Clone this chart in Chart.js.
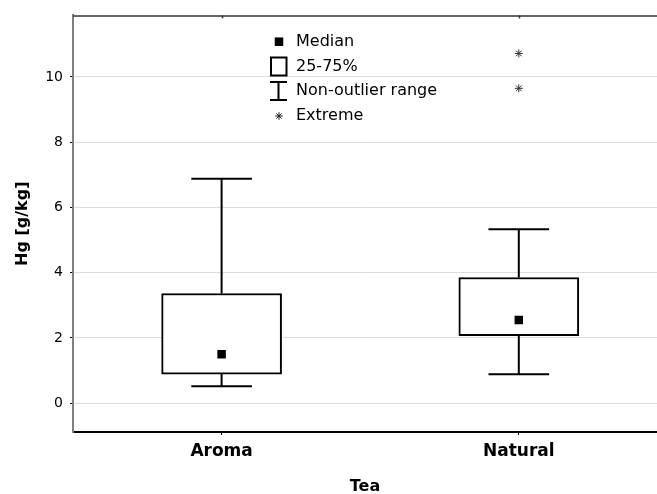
<!DOCTYPE html>
<html><head><meta charset="utf-8">
<script src="https://cdn.jsdelivr.net/npm/chart.js@4.4.1/dist/chart.umd.min.js"></script>
<style>html,body{margin:0;padding:0;background:#fff}canvas{display:block}</style>
</head><body>
<canvas id="c" width="657" height="494"></canvas>
<script>
// ---- data ----
const categories = ['Aroma', 'Natural'];
const q1 = [0.89, 2.07];
const q3 = [3.36, 3.85];
const medians = [1.50, 2.55];
const whiskerMin = [0.52, 0.885];
const whiskerMax = [6.88, 5.33];
const extremeCategory = [1, 1];
const extremeValues = [10.72, 9.65];
const yTicks = [0, 2, 4, 6, 8, 10];
const legendLabels = ['Median', '25-75%', 'Non-outlier range', 'Extreme'];
const xTitle = 'Tea';
const yTitle = 'Hg [g/kg]';

// ---- style constants ----
const CAP = 0.102;
const FONT = "'DejaVu Sans', sans-serif";

const medianData = categories.map((c, i) => ({x: i, y: medians[i]}));
const boxData = categories.map((c, i) => ({x: i, y: [q1[i], q3[i]]}));
const whiskerData = [];
const capData = [];
categories.forEach((c, i) => {
  whiskerData.push({x: i, y: q3[i]}, {x: i, y: whiskerMax[i]}, {x: i, y: null},
                   {x: i, y: q1[i]}, {x: i, y: whiskerMin[i]}, {x: i, y: null});
  capData.push({x: i - CAP, y: whiskerMax[i]}, {x: i + CAP, y: whiskerMax[i]}, {x: i, y: null},
               {x: i - CAP, y: whiskerMin[i]}, {x: i + CAP, y: whiskerMin[i]}, {x: i, y: null});
});
const extremeData = extremeValues.map((v, k) => ({x: extremeCategory[k], y: v}));

function star(ctx, x, y, r) {
  ctx.beginPath();
  for (let k = 0; k < 4; k++) {
    const a = k * Math.PI / 4;
    ctx.moveTo(x - r * Math.cos(a), y - r * Math.sin(a));
    ctx.lineTo(x + r * Math.cos(a), y + r * Math.sin(a));
  }
  ctx.stroke();
}

const framePlugin = {
  id: 'frame',
  afterDraw(chart) {
    const {ctx, chartArea: a, scales: {x}} = chart;
    ctx.save();
    ctx.strokeStyle = '#333';
    ctx.lineWidth = 1.5;
    ctx.beginPath();
    ctx.moveTo(a.left, a.top + 0.5);
    ctx.lineTo(a.right, a.top + 0.5);
    ctx.stroke();
    categories.forEach((c, i) => {
      const px = Math.round(x.getPixelForValue(i)) + 0.5;
      ctx.beginPath();
      ctx.moveTo(px, a.top);
      ctx.lineTo(px, a.top + 3);
      ctx.stroke();
    });
    // legend
    const ix = 279, tx = 296;
    const rows = [41.7, 66.5, 91.3, 116];
    ctx.fillStyle = '#000';
    ctx.strokeStyle = '#000';
    ctx.fillRect(ix - 4.25, rows[0] - 4.25, 8.5, 8.5);
    ctx.lineWidth = 2;
    ctx.strokeRect(271, 57.5, 15.5, 18);
    ctx.beginPath();
    ctx.moveTo(278.5, 82); ctx.lineTo(278.5, 100);
    ctx.moveTo(270, 82); ctx.lineTo(287, 82);
    ctx.moveTo(270, 100); ctx.lineTo(287, 100);
    ctx.stroke();
    ctx.lineWidth = 1;
    ctx.strokeStyle = '#222';
    star(ctx, ix, rows[3], 3.8);
    ctx.font = "16px " + FONT;
    ctx.textBaseline = 'middle';
    ctx.textAlign = 'left';
    ctx.fillStyle = '#000';
    legendLabels.forEach((t, k) => ctx.fillText(t, tx, rows[k]));
    ctx.restore();
  }
};

new Chart(document.getElementById('c'), {
  data: {
    datasets: [
      {type: 'scatter', data: medianData, pointStyle: 'rect', pointRadius: 6, pointBorderWidth: 0,
       backgroundColor: '#000', borderColor: '#000'},
      {type: 'bar', data: boxData, barThickness: 120, borderWidth: 2, borderSkipped: false,
       borderColor: '#000', backgroundColor: '#fff'},
      {type: 'line', data: whiskerData, borderColor: '#000', borderWidth: 2, pointRadius: 0,
       spanGaps: false, fill: false},
      {type: 'line', data: capData, borderColor: '#000', borderWidth: 2, pointRadius: 0,
       spanGaps: false, fill: false},
      {type: 'scatter', data: extremeData, pointStyle: 'star', pointRadius: 4, borderWidth: 1,
       borderColor: '#333', backgroundColor: '#333'}
    ]
  },
  options: {
    responsive: false,
    animation: false,
    devicePixelRatio: 1,
    layout: {autoPadding: false, padding: {top: 13, left: 0, right: 0, bottom: 0}},
    plugins: {legend: {display: false}, tooltip: {enabled: false}},
    scales: {
      x: {
        type: 'linear', min: -0.5, max: 1.465, offset: false,
        afterBuildTicks: s => { s.ticks = categories.map((c, i) => ({value: i})); },
        ticks: {callback: (v, i) => categories[i], font: {family: FONT, size: 17, weight: 'bold'},
                color: '#000', padding: 6, maxRotation: 0, autoSkip: false},
        grid: {offset: false, drawOnChartArea: false, drawTicks: true, tickLength: 3, tickColor: '#000', color: '#000'},
        border: {color: '#000', width: 2},
        title: {display: true, text: xTitle, color: '#000', padding: 0,
                font: {family: FONT, size: 16, weight: 'bold', lineHeight: 0.875}},
        afterFit: s => { s.height = 62; }
      },
      y: {
        min: -0.886, max: 11.886,
        afterBuildTicks: s => { s.ticks = yTicks.map(v => ({value: v})); },
        ticks: {font: {family: FONT, size: 14}, color: '#000', padding: 7},
        grid: {color: '#dcdcdc', lineWidth: 1, tickLength: 3, tickColor: '#000'},
        border: {color: '#808080', width: 2},
        title: {display: true, text: yTitle, color: '#000', padding: 15,
                font: {family: FONT, size: 16, weight: 'bold', lineHeight: 1}},
        afterFit: s => { s.width = 73; }
      }
    }
  },
  plugins: [framePlugin]
});
</script>
</body></html>
